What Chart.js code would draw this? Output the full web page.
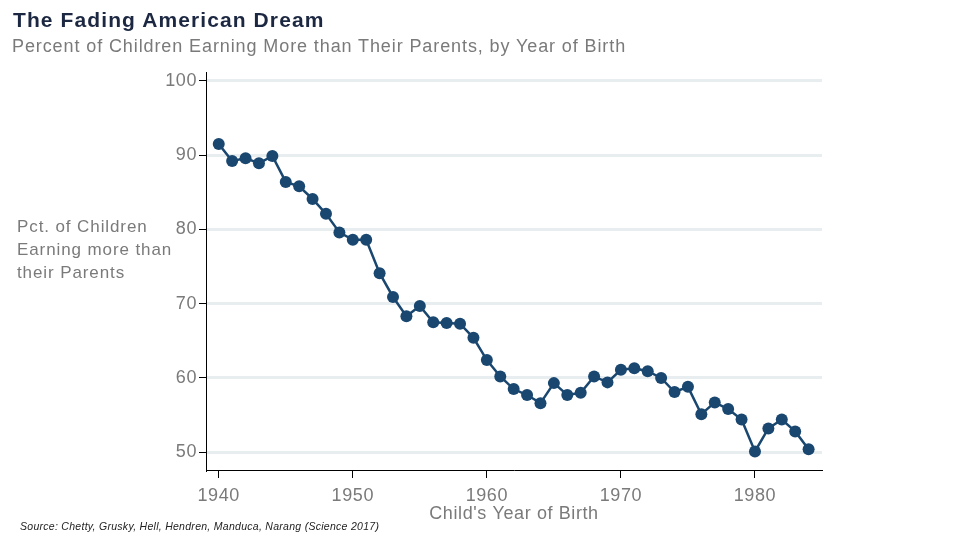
<!DOCTYPE html>
<html>
<head>
<meta charset="utf-8">
<script src="https://cdn.jsdelivr.net/npm/chart.js@4"></script>
<style>
  body { margin: 0; background: #fff; font-family: "Liberation Sans", Arial, sans-serif; }
  #wrap { position: relative; width: 960px; height: 540px; }
  #chart { position: absolute; left: 0; top: 0; }
  .txt { position: absolute; white-space: nowrap; }
  #title { left: 13px; top: 8px; font-size: 21px; letter-spacing: 1.1px; font-weight: bold; color: #1c2741; }
  #subtitle { left: 12px; top: 36px; font-size: 18px; letter-spacing: 0.9px; color: #7a7a7a; }
  #ylab { left: 17px; top: 215px; font-size: 17px; letter-spacing: 0.9px; line-height: 23px; color: #7a7a7a; }
  #source { left: 20px; top: 520px; font-size: 10.5px; letter-spacing: 0.28px; font-style: italic; color: #222; }
</style>
</head>
<body>
<div id="wrap">
  <canvas id="chart" width="960" height="540"></canvas>
  <div class="txt" id="title">The Fading American Dream</div>
  <div class="txt" id="subtitle">Percent of Children Earning More than Their Parents, by Year of Birth</div>
  <div class="txt" id="ylab">Pct. of Children<br>Earning more than<br>their Parents</div>
  <div class="txt" id="source">Source: Chetty, Grusky, Hell, Hendren, Manduca, Narang (Science 2017)</div>
</div>
<script>
// Année de naissance et pourcentage
const years = [1940, 1941, 1942, 1943, 1944, 1945, 1946, 1947, 1948, 1949,
               1950, 1951, 1952, 1953, 1954, 1955, 1956, 1957, 1958, 1959,
               1960, 1961, 1962, 1963, 1964, 1965, 1966, 1967, 1968, 1969,
               1970, 1971, 1972, 1973, 1974, 1975, 1976, 1977, 1978, 1979,
               1980, 1981, 1982, 1983, 1984];
const pctEarningMore = [91.5, 89.2, 89.6, 88.9, 89.9, 86.4, 85.8, 84.1, 82.1, 79.6,
                        78.6, 78.6, 74.1, 70.9, 68.3, 69.7, 67.5, 67.4, 67.3, 65.4,
                        62.4, 60.2, 58.5, 57.7, 56.6, 59.3, 57.7, 58.0, 60.2, 59.4,
                        61.1, 61.3, 60.9, 60.0, 58.1, 58.8, 55.1, 56.7, 55.8, 54.4,
                        50.1, 53.2, 54.4, 52.8, 50.4];
const xTicks = [1940, 1950, 1960, 1970, 1980];
const yTicks = [50, 60, 70, 80, 90, 100];

const navy = '#1a476f';
const gray = '#7a7a7a';

// Espacement des lettres un peu plus large, comme dans l'original
const spacingPlugin = {
    id: 'spacing',
    beforeLayout: chart => { chart.ctx.letterSpacing = '0.6px'; },
    beforeDraw: chart => { chart.ctx.letterSpacing = '0.6px'; }
};

const ctx = document.getElementById('chart').getContext('2d');
new Chart(ctx, {
    type: 'line',
    data: {
        datasets: [{
            data: years.map((yr, i) => ({ x: yr, y: pctEarningMore[i] })),
            borderColor: navy,
            backgroundColor: navy,
            borderWidth: 2.5,
            pointRadius: 6,
            pointHoverRadius: 6,
            pointBorderWidth: 0,
            tension: 0
        }]
    },
    options: {
        responsive: false,
        animation: false,
        layout: { padding: { left: 0, right: 138, top: 72, bottom: 15 } },
        plugins: {
            legend: { display: false },
            tooltip: { enabled: false }
        },
        scales: {
            x: {
                type: 'linear',
                min: 1939.05,
                max: 1985,
                afterBuildTicks: scale => { scale.ticks = xTicks.map(v => ({ value: v })); },
                afterFit: scale => { scale.height = 55; },
                grid: { drawOnChartArea: false, drawTicks: true, tickLength: 8, color: '#000', tickWidth: 1 },
                border: { display: true, color: '#000', width: 1 },
                ticks: {
                    color: gray, padding: 7, maxRotation: 0,
                    font: { family: 'Liberation Sans', size: 18 },
                    callback: v => String(v)
                },
                title: {
                    display: true, text: "Child's Year of Birth", color: gray,
                    font: { family: 'Liberation Sans', size: 18 }, padding: 0
                }
            },
            y: {
                min: 47.6,
                max: 101.2,
                afterBuildTicks: scale => { scale.ticks = yTicks.map(v => ({ value: v })); },
                afterFit: scale => { scale.width = 206; },
                grid: { color: '#e8eef0', lineWidth: 3, tickColor: '#000', tickWidth: 1, tickLength: 7 },
                border: { display: true, color: '#000', width: 1 },
                ticks: {
                    color: gray, padding: 2,
                    font: { family: 'Liberation Sans', size: 18 }
                }
            }
        }
    },
    plugins: [spacingPlugin]
});
</script>
</body>
</html>
